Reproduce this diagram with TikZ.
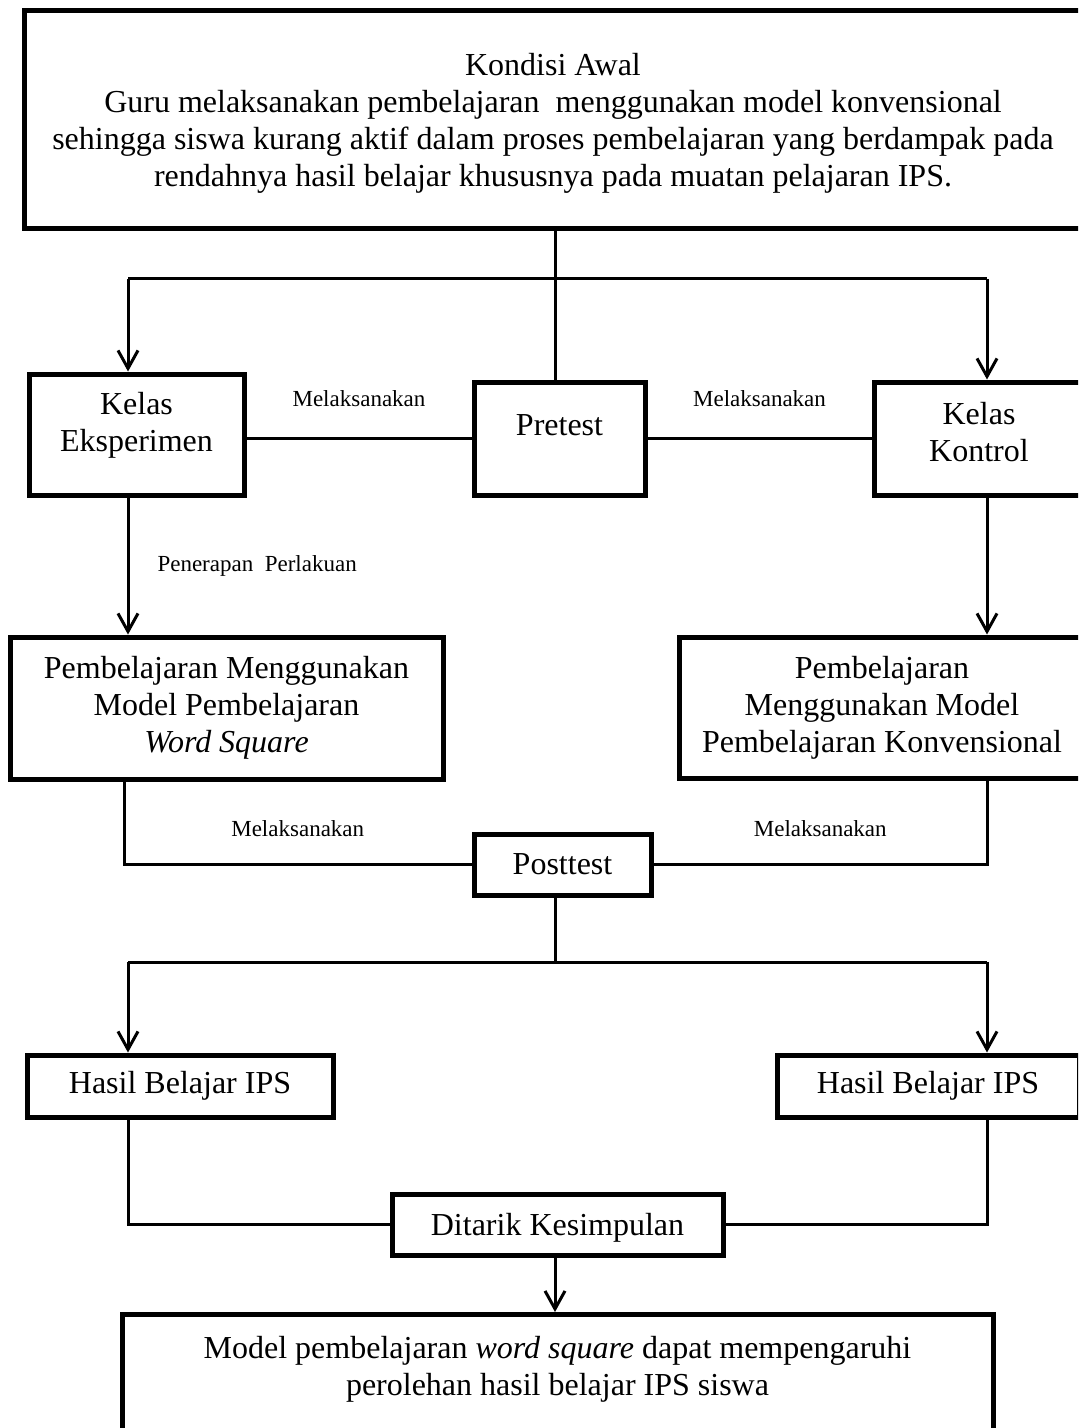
\documentclass[tikz,border=0pt]{standalone}
\usepackage{fontspec}
\setmainfont{Liberation Serif}
\usetikzlibrary{arrows.meta}

\begin{document}
\begin{tikzpicture}[
  x=0.5pt, y=-0.5pt,
  font=\fontsize{16}{18.5}\selectfont,
  box/.style={draw, line width=2.5pt, align=center, inner sep=0pt},
  line/.style={line width=1.5pt},
  arr/.style={line width=1.5pt, -{Straight Barb[length=9pt,width=10pt,line width=1.5pt]}},
  lbl/.style={font=\fontsize{11.5}{13}\selectfont, inner sep=0pt}
]

% Page frame (right side of the chart runs off the page)
\useasboundingbox (0,0) rectangle (1078,1428);
\clip (0,0) rectangle (1078,1428);

% Column positions (x)
\def\xL{128}
\def\xM{555}
\def\xR{987}
\coordinate (cL) at (\xL,0);
\coordinate (cM) at (\xM,0);
\coordinate (cR) at (\xR,0);
\coordinate (cWS) at (124,0);

% Boxes
\node[box, minimum width=529pt, minimum height=109pt, text depth=-1pt] (awal) at (553,120)
  {Kondisi Awal\\ Guru melaksanakan pembelajaran~ menggunakan model konvensional\\
   sehingga siswa kurang aktif dalam proses pembelajaran yang berdampak pada\\
   rendahnya hasil belajar khususnya pada muatan pelajaran IPS.};
\node[box, minimum width=107.5pt, minimum height=60.5pt, text depth=13pt] (eksp) at (136.5,434.5) {Kelas\\ Eksperimen};
\node[box, minimum width=85.5pt, minimum height=56.5pt, text depth=13.5pt] (pretest) at (559.5,438.5) {Pretest};
\node[box, minimum width=105pt, minimum height=56.5pt, text depth=6.5pt] (kontrol) at (979,438.5) {Kelas\\ Kontrol};
\node[box, minimum width=216.5pt, minimum height=71pt] (ws) at (226.5,708)
  {Pembelajaran Menggunakan\\ Model Pembelajaran\\ \textit{Word Square}};
\node[box, minimum width=203pt, minimum height=70.5pt] (konv) at (882,707.5)
  {Pembelajaran\\ Menggunakan Model\\ Pembelajaran Konvensional};
\node[box, minimum width=88.5pt, minimum height=30.5pt] (posttest) at (562.5,864.5) {Posttest};
\node[box, minimum width=153pt, minimum height=31pt] (hasilL) at (180,1086) {Hasil Belajar IPS};
\node[box, minimum width=151pt, minimum height=31pt] (hasilR) at (928,1086) {Hasil Belajar IPS};
\node[box, minimum width=165.5pt, minimum height=30.5pt, text depth=0pt] (ditarik) at (557.5,1224.5) {Ditarik Kesimpulan};
\node[box, anchor=north, minimum width=435.5pt, inner ysep=11pt, text depth=40pt] (akhir) at (557.5,1312)
  {Model pembelajaran \textit{word square} dapat mempengaruhi\\ perolehan hasil belajar IPS siswa};

% Kondisi awal -> kelas
\coordinate (s1) at (\xM,279);
\draw[line] (awal.south -| cM) -- (cM |- pretest.north);
\draw[line] (s1 -| cL) -- (s1 -| cR);
\draw[arr] (s1 -| cL) -- (cL |- eksp.north);
\draw[arr] (s1 -| cR) -- (cR |- kontrol.north);

% Pretest
\draw[line] (pretest.west) -- node[lbl, above=15pt]{Melaksanakan} (pretest.west -| eksp.east);
\draw[line] (pretest.east) -- node[lbl, above=15pt]{Melaksanakan} (pretest.east -| kontrol.west);

% Perlakuan
\draw[arr] (cL |- eksp.south) -- node[lbl, right=14pt]{Penerapan~ Perlakuan} (cL |- ws.north);
\draw[arr] (cR |- kontrol.south) -- (cR |- konv.north);

% Posttest
\draw[line] (cWS |- ws.south) -- (cWS |- posttest.west) -- node[lbl, above=13pt]{Melaksanakan} (posttest.west);
\draw[line] (cR |- konv.south) -- (cR |- posttest.east) -- node[lbl, above=13pt]{Melaksanakan} (posttest.east);

% Hasil belajar
\coordinate (s2) at (\xM,962);
\draw[line] (cM |- posttest.south) -- (s2);
\draw[line] (s2 -| cL) -- (s2 -| cR);
\draw[arr] (s2 -| cL) -- (cL |- hasilL.north);
\draw[arr] (s2 -| cR) -- (cR |- hasilR.north);

% Kesimpulan
\draw[line] (cL |- hasilL.south) -- (cL |- ditarik.west) -- (ditarik.west);
\draw[line] (cR |- hasilR.south) -- (cR |- ditarik.east) -- (ditarik.east);
\draw[arr] (cM |- ditarik.south) -- (cM |- akhir.north);

\end{tikzpicture}
\end{document}
